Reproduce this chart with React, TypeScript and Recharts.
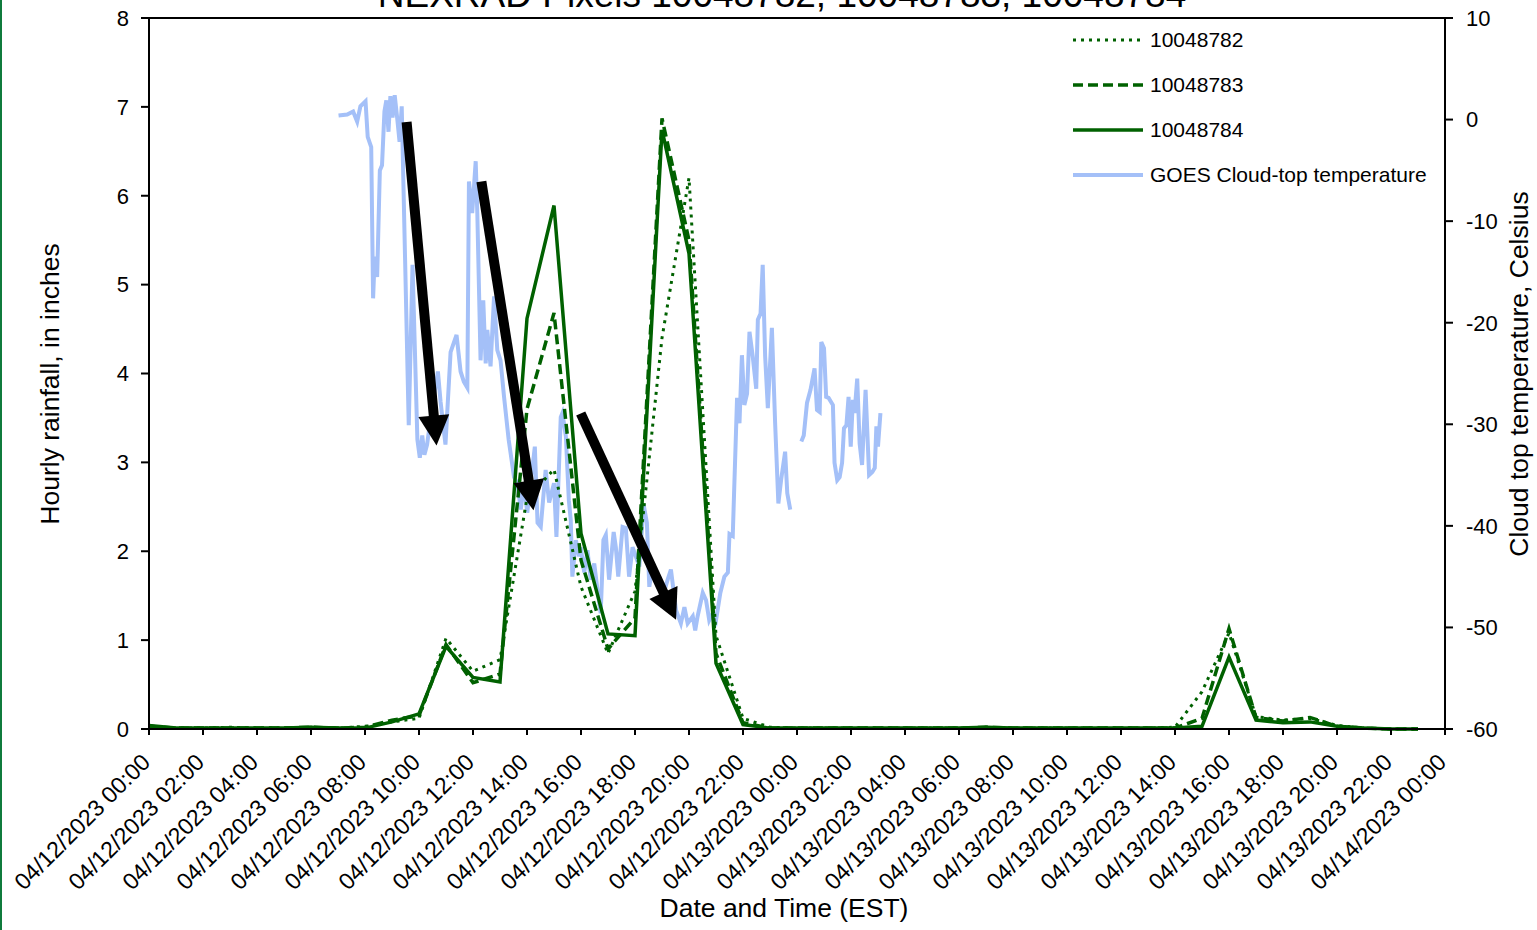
import { LineChart, Line, XAxis, YAxis, ReferenceLine, Legend } from 'recharts';

// hourly rainfall, hours since 04/12/2023 00:00
const HOURS = [
  0, 1, 2, 3, 4, 5, 6, 7, 8, 9, 10, 11, 12, 13, 14, 15, 16, 17, 18, 19, 20, 21, 22, 23,
  24, 25, 26, 27, 28, 29, 30, 31, 32, 33, 34, 35, 36, 37, 38, 39, 40, 41, 42, 43, 44, 45, 46, 47,
];
const PIXEL_782 = [
  0.03, 0.01, 0.01, 0.02, 0.01, 0.01, 0.02, 0.01, 0.03, 0.08, 0.12, 1.02, 0.65, 0.78, 2.6, 2.92, 1.6, 0.85, 1.55, 4.4, 6.2, 1.05, 0.12, 0.02,
  0.01, 0.01, 0.01, 0.01, 0.01, 0.01, 0.01, 0.02, 0.01, 0.01, 0.01, 0.01, 0.01, 0.01, 0.02, 0.42, 1.08, 0.14, 0.1, 0.12, 0.04, 0.01, 0, 0,
];
const PIXEL_783 = [
  0.03, 0.01, 0.01, 0.01, 0.01, 0.01, 0.02, 0.01, 0.02, 0.1, 0.15, 0.95, 0.52, 0.62, 3.6, 4.68, 1.9, 0.9, 1.25, 6.87, 5.5, 0.85, 0.07, 0.01,
  0.01, 0.01, 0.01, 0.01, 0.01, 0.01, 0.01, 0.02, 0.01, 0.01, 0.01, 0.01, 0.01, 0.01, 0.01, 0.12, 1.13, 0.13, 0.09, 0.13, 0.03, 0.01, 0, 0,
];
const PIXEL_784 = [
  0.04, 0.01, 0.01, 0.01, 0.01, 0.01, 0.02, 0.01, 0.01, 0.08, 0.17, 0.93, 0.58, 0.53, 4.62, 5.89, 2.2, 1.07, 1.05, 6.74, 5.35, 0.74, 0.05, 0.01,
  0.01, 0.01, 0.01, 0.01, 0.01, 0.01, 0.01, 0.02, 0.01, 0.01, 0.01, 0.01, 0.01, 0.01, 0.01, 0.03, 0.81, 0.1, 0.07, 0.08, 0.03, 0.01, 0, 0,
];

// GOES cloud-top temperature (Celsius); null marks the data gap
const GOES_HOUR = [
  7.02, 7.34, 7.56, 7.71, 7.83, 8.02, 8.1, 8.23, 8.3, 8.36, 8.45, 8.55, 8.63, 8.72, 8.79, 8.87, 8.94, 9.02, 9.1, 9.19,
  9.28, 9.36, 9.62, 9.76, 9.94, 10.03, 10.12, 10.2, 10.3, 10.43, 10.7, 10.8, 10.98, 11.17, 11.39, 11.54, 11.66, 11.79, 11.85, 11.97,
  12.1, 12.16, 12.28, 12.38, 12.47, 12.53, 12.65, 12.78, 12.9, 13.02, 13.15, 13.32, 13.52, 13.64, 13.77, 13.89, 14.01, 14.29, 14.39, 14.51,
  14.69, 14.82, 15.0, 15.09, 15.25, 15.31, 15.44, 15.55, 15.62, 15.68, 15.81, 15.93, 15.99, 16.12, 16.24, 16.36, 16.49, 16.61, 16.73, 16.83,
  16.92, 17.04, 17.21, 17.29, 17.38, 17.54, 17.66, 17.78, 17.91, 18.03, 18.16, 18.32, 18.44, 18.53, 18.65, 18.84, 19.02, 19.21, 19.33, 19.52,
  19.7, 19.83, 19.95, 20.14, 20.23, 20.32, 20.51, 20.63, 20.75, 20.88, 21.0, 21.16, 21.31, 21.44, 21.5, 21.62, 21.78, 21.87, 21.96, 22.05,
  22.15, 22.24, 22.36, 22.49, 22.55, 22.65, 22.73, 22.82, 22.92, 23.07, 23.19, 23.31, 23.41, 23.56, 23.64, 23.75, 23.95,
  24.16, 24.25, 24.37, 24.5, 24.65, 24.74, 24.84, 24.9, 25.0, 25.08, 25.17, 25.33, 25.39, 25.49, 25.58, 25.67, 25.74, 25.83, 25.91, 25.99,
  26.07, 26.13, 26.23, 26.32, 26.41, 26.54, 26.67, 26.79, 26.88, 26.94, 27.0, 27.09,
];
const GOES_TEMP = [
  0.4, 0.5, 0.8, -0.2, 1.3, 1.8, -1.7, -2.7, -17.6, -13.5, -15.5, -5.0, -4.5, 0.8, 1.9, -1.2, 2.3, 0.2, 2.4, 0.2,
  -2.2, 1.3, -30.1, -14.3, -31.5, -33.3, -31.1, -33.0, -32.0, -29.4, -24.8, -27.8, -32.0, -22.9, -21.2, -24.8, -25.8, -26.4, -6.1, -9.2,
  -4.1, -9.2, -23.7, -17.8, -24.0, -20.7, -24.3, -17.4, -22.7, -23.7, -27.3, -31.5, -35.2, -35.8, -38.4, -35.8, -38.7, -32.2, -39.7, -40.1,
  -34.5, -37.7, -35.8, -41.1, -29.3, -28.9, -31.2, -37.5, -39.4, -45.0, -41.4, -43.0, -42.1, -44.6, -42.4, -45.3, -43.7, -46.3, -48.6, -41.4,
  -40.9, -45.3, -40.6, -42.1, -45.0, -40.1, -40.2, -45.0, -42.1, -43.0, -44.0, -37.9, -39.7, -46.0, -44.0, -45.3, -47.0, -45.3, -44.3, -48.3,
  -49.6, -48.0, -49.6, -48.9, -50.3, -48.9, -46.6, -47.3, -49.3, -48.6, -49.3, -46.6, -45.0, -44.6, -40.8, -41.0, -27.4, -29.9, -23.2, -28.1,
  -27.0, -20.9, -23.3, -26.5, -19.7, -19.1, -14.3, -23.3, -28.4, -20.5, -29.9, -37.8, -35.5, -32.7, -36.8, -38.4, null,
  -31.7, -31.1, -27.9, -26.6, -24.5, -28.6, -28.8, -21.9, -22.5, -27.3, -27.4, -28.1, -33.8, -35.5, -35.2, -33.8, -30.4, -30.1, -27.3, -32.2,
  -27.6, -28.9, -25.5, -31.9, -34.0, -26.6, -35.0, -34.7, -34.3, -30.2, -32.2, -28.9,
];

const X_TICKS = [0, 2, 4, 6, 8, 10, 12, 14, 16, 18, 20, 22, 24, 26, 28, 30, 32, 34, 36, 38, 40, 42, 44, 46, 48];
const RAIN_TICKS = [0, 1, 2, 3, 4, 5, 6, 7, 8];
const TEMP_TICKS = [-60, -50, -40, -30, -20, -10, 0, 10];

// annotation arrows, in (hour, rainfall) units
const ARROWS = [
  { x1: 9.54, y1: 6.83, x2: 10.65, y2: 3.19 },
  { x1: 12.31, y1: 6.16, x2: 14.24, y2: 2.46 },
  { x1: 15.99, y1: 3.55, x2: 19.52, y2: 1.23 },
];

const GREEN = '#006100';
const BLUE = '#a4c0f8';
const FONT = '"Liberation Sans", Arial, sans-serif';

const rainRows = HOURS.map((h, i) => ({ h, p782: PIXEL_782[i], p783: PIXEL_783[i], p784: PIXEL_784[i] }));
const goesRows = GOES_HOUR.map((h, i) => ({ h, t: GOES_TEMP[i] }));

const LEGEND_ITEMS = [
  { label: '10048782', color: GREEN, width: 3, dash: '3 5' },
  { label: '10048783', color: GREEN, width: 3.5, dash: '10 5' },
  { label: '10048784', color: GREEN, width: 3.5, dash: undefined },
  { label: 'GOES Cloud-top temperature', color: BLUE, width: 4, dash: undefined },
];

function tickLabel(h: number) {
  const day = 12 + Math.floor(h / 24);
  const hh = String(h % 24).padStart(2, '0');
  return `04/${day}/2023 ${hh}:00`;
}

function DateTick(props: any) {
  const { x, y, payload } = props;
  const ax = x - 3;
  const ay = y + 21;
  return (
    <text
      x={ax}
      y={ay}
      textAnchor="end"
      dominantBaseline="central"
      transform={`rotate(-45 ${ax} ${ay})`}
      fontSize={23.2}
      fontFamily={FONT}
      fill="#000"
    >
      {tickLabel(payload.value)}
    </text>
  );
}

function Arrow(props: any) {
  const { x1, y1, x2, y2 } = props;
  const dx = x2 - x1;
  const dy = y2 - y1;
  const len = Math.hypot(dx, dy);
  const ux = dx / len;
  const uy = dy / len;
  const head = 30;
  const half = 15.5;
  const bx = x2 - ux * head;
  const by = y2 - uy * head;
  return (
    <g>
      <line x1={x1} y1={y1} x2={bx + ux * 2} y2={by + uy * 2} stroke="#000" strokeWidth={10} />
      <polygon
        points={`${x2},${y2} ${bx - uy * half},${by + ux * half} ${bx + uy * half},${by - ux * half}`}
        fill="#000"
      />
    </g>
  );
}

function LegendBox() {
  return (
    <div style={{ fontFamily: FONT, fontSize: 21, color: '#000' }}>
      {LEGEND_ITEMS.map((it) => (
        <div key={it.label} style={{ display: 'flex', alignItems: 'center', height: 45 }}>
          <svg width={72} height={10}>
            <line x1={1} y1={5} x2={71} y2={5} stroke={it.color} strokeWidth={it.width} strokeDasharray={it.dash} />
          </svg>
          <span style={{ marginLeft: 6 }}>{it.label}</span>
        </div>
      ))}
    </div>
  );
}

const axisStyle = { stroke: '#000', strokeWidth: 2 };
const tickFont = { fontSize: 22, fill: '#000', fontFamily: FONT };

export default function App() {
  return (
    <div style={{ position: 'relative', width: 1537, height: 930, background: '#fff', overflow: 'hidden' }}>
      <style>{'body{margin:0}'}</style>
      <div style={{ position: 'absolute', left: 0, top: 0, width: 2, height: 930, background: '#0f7b3c' }} />
      <LineChart width={1537} height={930} data={rainRows} margin={{ top: 18, right: 0, bottom: 0, left: 0 }}>
        <XAxis
          dataKey="h"
          type="number"
          domain={[0, 48]}
          ticks={X_TICKS}
          interval={0}
          allowDataOverflow
          height={201}
          tick={DateTick}
          tickSize={6}
          axisLine={axisStyle}
          tickLine={axisStyle}
          label={{
            content: () => (
              <text x={784} y={917} textAnchor="middle" fontSize={26.5} fontFamily={FONT} fill="#000">
                Date and Time (EST)
              </text>
            ),
          }}
        />
        <YAxis
          yAxisId="left"
          domain={[0, 8]}
          ticks={RAIN_TICKS}
          width={149}
          tickSize={8}
          tickMargin={12}
          tick={tickFont}
          axisLine={axisStyle}
          tickLine={axisStyle}
          label={{
            content: () => (
              <text
                x={50}
                y={384}
                textAnchor="middle"
                dominantBaseline="central"
                transform="rotate(-90 50 384)"
                fontSize={26.5}
                fontFamily={FONT}
                fill="#000"
              >
                Hourly rainfall, in inches
              </text>
            ),
          }}
        />
        <YAxis
          yAxisId="right"
          orientation="right"
          domain={[-60, 10]}
          ticks={TEMP_TICKS}
          width={92}
          tickSize={8}
          tickMargin={13}
          tick={tickFont}
          axisLine={axisStyle}
          tickLine={axisStyle}
          label={{
            content: () => (
              <text
                x={1519}
                y={374}
                textAnchor="middle"
                dominantBaseline="central"
                transform="rotate(-90 1519 374)"
                fontSize={26.5}
                fontFamily={FONT}
                fill="#000"
              >
                Cloud top temperature, Celsius
              </text>
            ),
          }}
        />
        <ReferenceLine yAxisId="left" y={8} stroke="#000" strokeWidth={2} />
        <Line
          yAxisId="right"
          data={goesRows}
          dataKey="t"
          stroke={BLUE}
          strokeWidth={4}
          dot={false}
          activeDot={false}
          isAnimationActive={false}
        />
        <Line yAxisId="left" dataKey="p784" stroke={GREEN} strokeWidth={3.5} dot={false} activeDot={false} isAnimationActive={false} />
        <Line
          yAxisId="left"
          dataKey="p783"
          stroke={GREEN}
          strokeWidth={3.5}
          strokeDasharray="10 5"
          dot={false}
          activeDot={false}
          isAnimationActive={false}
        />
        <Line
          yAxisId="left"
          dataKey="p782"
          stroke={GREEN}
          strokeWidth={3}
          strokeDasharray="3 5"
          dot={false}
          activeDot={false}
          isAnimationActive={false}
        />
        {ARROWS.map((a, i) => (
          <ReferenceLine
            key={i}
            yAxisId="left"
            segment={[{ x: a.x1, y: a.y1 }, { x: a.x2, y: a.y2 }]}
            ifOverflow="visible"
            shape={Arrow}
          />
        ))}
        <Legend
          layout="horizontal"
          verticalAlign="middle"
          align="center"
          content={LegendBox}
          wrapperStyle={{ left: 1072, top: 17, width: 420, height: 180 }}
        />
      </LineChart>
      <svg style={{ position: 'absolute', left: 0, top: 0, pointerEvents: 'none' }} width={1537} height={40}>
        <text x={782} y={7} textAnchor="middle" fontSize={37} fontFamily={FONT} fill="#000">
          NEXRAD Pixels 10048782, 10048783, 10048784
        </text>
      </svg>
    </div>
  );
}
